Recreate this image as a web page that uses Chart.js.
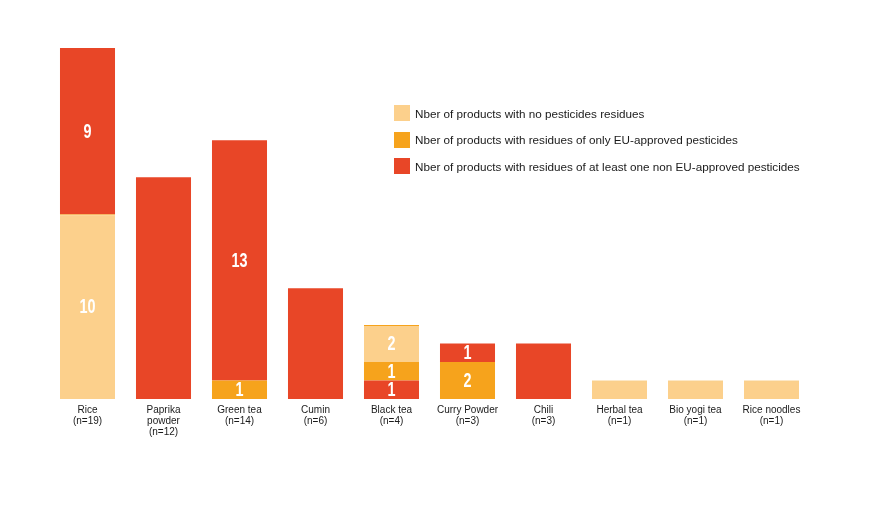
<!DOCTYPE html>
<html>
<head>
<meta charset="utf-8">
<script src="https://cdn.jsdelivr.net/npm/chart.js@4"></script>
<style>
  html, body { margin: 0; padding: 0; background: #fff; }
  #wrap { position: relative; width: 888px; height: 514px; }
  #legenda { position: absolute; left: 394px; top: 105px; font-family: "Liberation Sans", Arial, sans-serif; font-size: 11.7px; color: #1a1a1a; }
  .item { display: flex; align-items: center; height: 16px; margin-bottom: 10.5px; }
  .caixa { width: 16px; height: 16px; margin-right: 5px; }
</style>
</head>
<body>
<div id="wrap">
  <canvas id="grafico" width="888" height="514"></canvas>
  <div id="legenda"></div>
</div>
<script>
// categorias e valores
const categorias = [
    ["Rice", "(n=19)"], ["Paprika", "powder", "(n=12)"], ["Green tea", "(n=14)"], ["Cumin", "(n=6)"],
    ["Black tea", "(n=4)"], ["Curry Powder", "(n=3)"], ["Chili", "(n=3)"], ["Herbal tea", "(n=1)"],
    ["Bio yogi tea", "(n=1)"], ["Rice noodles", "(n=1)"]
];
// black tea tem o segmento vermelho em baixo
const naoUeBase = [0, 0, 0, 0, 1, 0, 0, 0, 0, 0];
const apenasUe = [0, 0, 1, 0, 1, 2, 0, 0, 0, 0];
const semResiduos = [10, 0, 0, 0, 2, 0, 0, 1, 1, 1];
const naoUe = [9, 12, 13, 6, 0, 1, 3, 0, 0, 0];

const CORES = { claro: "#FCD08C", laranja: "#F6A31C", vermelho: "#E84627" };

const legendaItens = [
    { texto: "Nber of products with no pesticides residues", cor: CORES.claro },
    { texto: "Nber of products with residues of only EU-approved pesticides", cor: CORES.laranja },
    { texto: "Nber of products with residues of at least one non EU-approved pesticides", cor: CORES.vermelho },
];

const legendaEl = document.getElementById("legenda");
legendaItens.forEach(({ texto, cor }) => {
    const d = document.createElement("div");
    d.className = "item";
    d.innerHTML = `<span class="caixa" style="background:${cor}"></span><span>${texto}</span>`;
    legendaEl.appendChild(d);
});

// plugin: numeros so nas barras com mais de um segmento
const rotulosBarras = {
    id: "rotulosBarras",
    afterDatasetsDraw(chart) {
        const ctx = chart.ctx;
        const sets = chart.data.datasets;
        ctx.save();
        ctx.fillStyle = "#fff";
        ctx.font = "bold 20px 'Liberation Sans', Arial, sans-serif";
        ctx.textAlign = "center";
        ctx.textBaseline = "middle";
        sets.forEach((ds, i) => {
            chart.getDatasetMeta(i).data.forEach((bar, j) => {
                const v = ds.data[j];
                if (!v) return;
                const segmentos = sets.filter(s => s.data[j] > 0).length;
                if (segmentos < 2) return;
                ctx.save();
                ctx.translate(bar.x, (bar.y + bar.base) / 2 + 1);
                ctx.scale(0.72, 1);
                ctx.fillText(String(v), 0, 0);
                ctx.restore();
            });
        });
        ctx.restore();
    }
};

const comum = { barPercentage: 0.724, categoryPercentage: 1, borderWidth: 0 };

new Chart(document.getElementById("grafico").getContext("2d"), {
    type: "bar",
    data: {
        labels: categorias,
        datasets: [
            { label: "nonEUbase", data: naoUeBase, backgroundColor: CORES.vermelho, ...comum },
            { label: "EU", data: apenasUe, backgroundColor: CORES.laranja, ...comum },
            { label: "none", data: semResiduos, backgroundColor: CORES.claro, ...comum,
              borderColor: CORES.laranja, borderWidth: { top: 1 }, borderSkipped: "bottom" },
            { label: "nonEU", data: naoUe, backgroundColor: CORES.vermelho, ...comum },
        ],
    },
    options: {
        responsive: false,
        animation: false,
        layout: { padding: { left: 49.5, right: 78.5, top: 48, bottom: 0 } },
        plugins: { legend: { display: false }, tooltip: { enabled: false } },
        scales: {
            x: {
                stacked: true,
                grid: { display: false },
                border: { display: false },
                ticks: {
                    color: "#1a1a1a",
                    padding: -2,
                    maxRotation: 0,
                    autoSkip: false,
                    font: { family: "Arial, 'Liberation Sans', sans-serif", size: 10, lineHeight: 1.1 },
                },
                afterFit(axis) { axis.height = 115; },
            },
            y: { stacked: true, display: false, min: 0, max: 19 },
        },
    },
    plugins: [rotulosBarras],
});
</script>
</body>
</html>
